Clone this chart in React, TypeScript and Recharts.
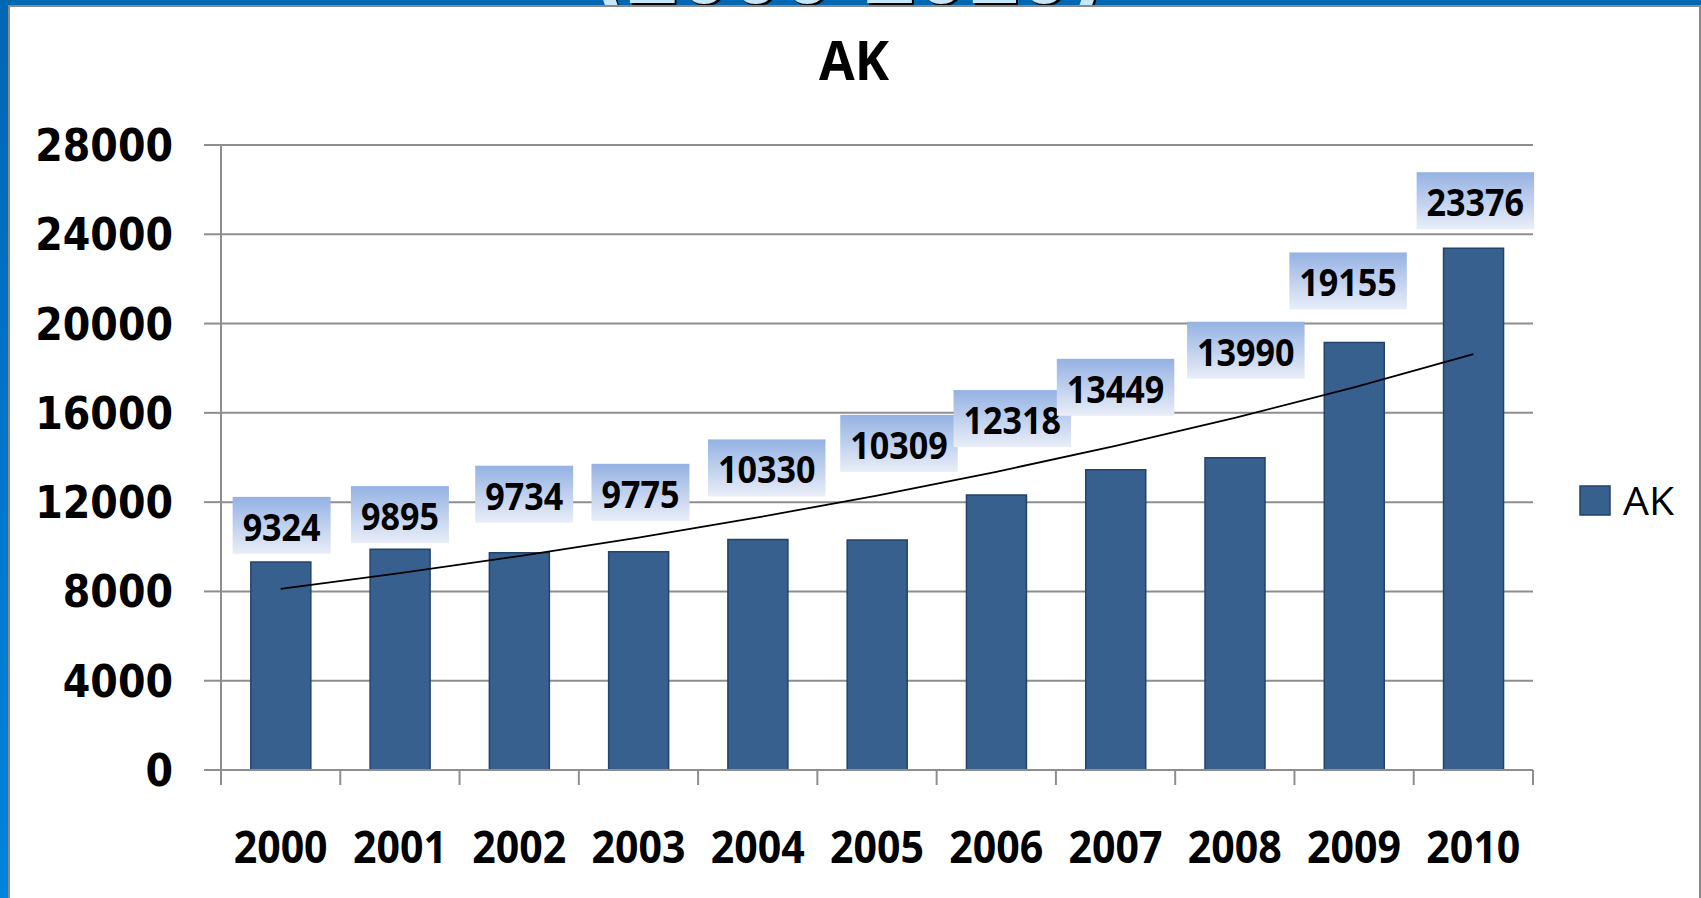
import React from 'react';
import { ComposedChart, Bar, Line, XAxis, YAxis, CartesianGrid, LabelList } from 'recharts';

const years = ['2000', '2001', '2002', '2003', '2004', '2005', '2006', '2007', '2008', '2009', '2010'];
const akValues = [9324, 9895, 9734, 9775, 10330, 10309, 12318, 13449, 13990, 19155, 23376];
// exponential trendline values
const trendValues = [8115, 8818, 9582, 10412, 11314, 12295, 13360, 14519, 15777, 17144, 18629];
const yTicks = [0, 4000, 8000, 12000, 16000, 20000, 24000, 28000];
const seriesName = 'AK';
const chartTitle = 'AK';
const bannerTitle = '(2000-2010)';

// label box layout (manual placement in the original)
const labelShiftX = [1, 0, 5, 2, 9, 22, 16, 0, 11, -6, 2];
const labelLift = [65, 63, 87, 88, 100, 125, 105, 111, 136, 90, 76];

const data = years.map((year, i) => ({ year, ak: akValues[i], trend: trendValues[i] }));

const BAR_FILL = '#37608F';
const BAR_STROKE = '#22436C';
const GRID = '#8E8E8E';
const CAL = "'Open Sans', 'Noto Sans', sans-serif";
const YFONT = "'DejaVu Sans Condensed', 'DejaVu Sans', sans-serif";

const YTick = (props: any) => {
  const { x, y, payload } = props;
  return (
    <text x={x} y={y} dy={16} textAnchor="end" fontFamily={YFONT} fontStretch="condensed"
      fontWeight="bold" fontSize={44} fill="#000">{payload.value}</text>
  );
};

const XTick = (props: any) => {
  const { x, y, payload, index, width, visibleTicksCount } = props;
  const band = (width || 1312) / (visibleTicksCount || years.length);
  const last = index === years.length - 1;
  const s = String(payload.value);
  return (
    <g>
      <line x1={x - band / 2} x2={x - band / 2} y1={y} y2={y + 15} stroke={GRID} strokeWidth={2} />
      {last && <line x1={x + band / 2} x2={x + band / 2} y1={y} y2={y + 15} stroke={GRID} strokeWidth={2} />}
      <text x={x} y={y + 93} textAnchor="middle" fontFamily={CAL} fontWeight="bold" fontSize={45}
        fill="#000" textLength={23.5 * s.length} lengthAdjust="spacingAndGlyphs">{s}</text>
    </g>
  );
};

const ValueLabel = (props: any) => {
  const { x, y, value } = props;
  let index = props.index;
  if (index === undefined || index === null) index = akValues.indexOf(Number(value));
  const text = String(value);
  const w = 20 + 19.5 * text.length;
  const h = 57;
  const cx = x + labelShiftX[index];
  const top = y - labelLift[index];
  const id = `lblgrad${index}`;
  return (
    <g>
      <defs>
        <linearGradient id={id} x1="0" y1="0" x2="0" y2="1">
          <stop offset="0" stopColor="#95B2E3" />
          <stop offset="1" stopColor="#E9EEF8" />
        </linearGradient>
      </defs>
      <rect x={cx - w / 2} y={top} width={w} height={h} fill={`url(#${id})`} />
      <text x={cx} y={top + 44} textAnchor="middle" fontFamily={CAL} fontWeight="bold" fontSize={38}
        fill="#000" textLength={19.5 * text.length} lengthAdjust="spacingAndGlyphs">{text}</text>
    </g>
  );
};

export default function App() {
  return (
    <div style={{ position: 'absolute', left: 0, top: 0, width: 1701, height: 898, background: '#fff', overflow: 'hidden' }}>
      <div style={{ position: 'absolute', left: 0, top: 0 }}>
        <ComposedChart width={1701} height={898} data={data} barCategoryGap="25%"
          margin={{ top: 145, right: 168, bottom: 28, left: 0 }}>
          <CartesianGrid vertical={false} stroke={GRID} strokeWidth={2} />
          <XAxis dataKey="year" height={100} tickLine={false} tickSize={0} tickMargin={0}
            axisLine={{ stroke: GRID, strokeWidth: 2 }} tick={<XTick />} interval={0} />
          <YAxis width={221} domain={[0, 28000]} ticks={yTicks} interval={0} tickSize={17} tickMargin={31}
            tickLine={{ stroke: GRID, strokeWidth: 2 }} axisLine={{ stroke: GRID, strokeWidth: 2 }}
            tick={<YTick />} />
          <Bar dataKey="ak" name={seriesName} fill={BAR_FILL} stroke={BAR_STROKE} strokeWidth={1.5}
            isAnimationActive={false} />
          <Line dataKey="trend" stroke="#000" strokeWidth={1.8} dot={false} activeDot={false}
            isAnimationActive={false} legendType="none" />
          <Line dataKey="ak" stroke="none" dot={false} activeDot={false} isAnimationActive={false} legendType="none">
            <LabelList dataKey="ak" content={(p: any) => <ValueLabel {...p} />} />
          </Line>
        </ComposedChart>
      </div>
      <svg width={1701} height={898} style={{ position: 'absolute', left: 0, top: 0, pointerEvents: 'none' }}>
        <defs>
          <linearGradient id="sideBlue" x1="0" y1="0" x2="0" y2="1">
            <stop offset="0" stopColor="#0067B3" />
            <stop offset="1" stopColor="#0084DC" />
          </linearGradient>
          <clipPath id="bandClip"><rect x={0} y={0} width={1701} height={5} /></clipPath>
        </defs>
        <rect x={0} y={0} width={1701} height={5} fill="#0067B3" />
        <g clipPath="url(#bandClip)">
          <text x={598} y={5} fontFamily="'Liberation Sans', Arial, sans-serif" fontWeight="bold" fontSize={93}
            fill="#000" textLength={505} lengthAdjust="spacingAndGlyphs">{bannerTitle}</text>
          <text x={596} y={3} fontFamily="'Liberation Sans', Arial, sans-serif" fontWeight="bold" fontSize={93}
            fill="#C6E6FA" textLength={505} lengthAdjust="spacingAndGlyphs">{bannerTitle}</text>
        </g>
        <rect x={0} y={0} width={8} height={898} fill="url(#sideBlue)" />
        <rect x={8} y={5} width={1693} height={2} fill="#8A8A8A" />
        <rect x={8} y={5} width={2} height={893} fill="#8A8A8A" />
        <rect x={1699} y={5} width={2} height={893} fill="#8A8A8A" />
        <text x={854} y={80} textAnchor="middle" fontFamily={CAL} fontWeight="bold" fontSize={53}
          fill="#000" textLength={70} lengthAdjust="spacingAndGlyphs">{chartTitle}</text>
        <rect x={1580} y={486} width={30} height={29} fill={BAR_FILL} stroke={BAR_STROKE} strokeWidth={1.5} />
        <text x={1623} y={515} fontFamily={CAL} fontSize={39} fill="#000" textLength={51}
          lengthAdjust="spacingAndGlyphs">{seriesName}</text>
      </svg>
    </div>
  );
}
